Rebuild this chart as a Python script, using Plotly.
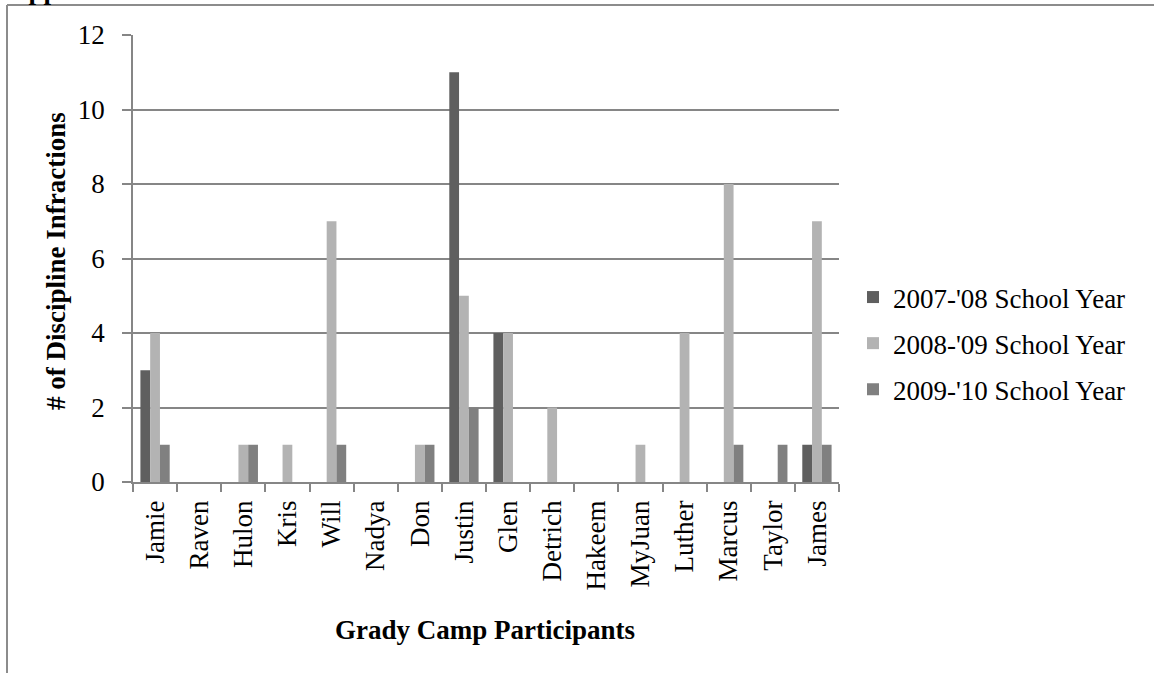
import plotly.graph_objects as go

participants = ["Jamie", "Raven", "Hulon", "Kris", "Will", "Nadya", "Don", "Justin",
                "Glen", "Detrich", "Hakeem", "MyJuan", "Luther", "Marcus", "Taylor", "James"]
year_0708 = [3, 0, 0, 0, 0, 0, 0, 11, 4, 0, 0, 0, 0, 0, 0, 1]
year_0809 = [4, 0, 1, 1, 7, 0, 1, 5, 4, 2, 0, 1, 4, 8, 0, 7]
year_0910 = [1, 0, 1, 0, 1, 0, 1, 2, 0, 0, 0, 0, 0, 1, 1, 1]
series_names = ["2007-'08 School Year", "2008-'09 School Year", "2009-'10 School Year"]
series_colors = ["#5f5f5f", "#b3b3b3", "#808080"]

FONT = "Liberation Serif, Times New Roman, serif"
W, H = 1154, 673
L, R, T, B = 133, 839, 35, 482  # plot area in pixels

def px(x):
    return (x - L) / (R - L)

def py(y):
    return (B - y) / (B - T)

fig = go.Figure()
for i, (name, vals, col) in enumerate(zip(series_names, [year_0708, year_0809, year_0910], series_colors)):
    fig.add_trace(go.Bar(x=participants, y=vals, name=name, marker_color=col,
                         marker_line_width=0, legendgroup=str(i)))

fig.update_layout(
    width=W, height=H,
    margin=dict(l=L, r=W - R, t=T, b=H - B, pad=0),
    plot_bgcolor="white", paper_bgcolor="white",
    barmode="group", bargap=0.336, bargroupgap=0,
    font=dict(family=FONT, size=27, color="black"),
    showlegend=True,
    legend=dict(x=px(853), y=py(273), xanchor="left", yanchor="top",
                font=dict(family=FONT, size=27, color="black"),
                traceorder="grouped", tracegroupgap=8, itemwidth=30,
                bgcolor="rgba(0,0,0,0)"),
)

fig.update_xaxes(
    type="category", showgrid=False, showline=True, linecolor="#868686", linewidth=1.5,
    ticks="outside", tickson="boundaries", ticklen=8, tickcolor="#868686", tickwidth=1.5,
    tickangle=-90, ticklabelstandoff=6, tickfont=dict(family=FONT, size=27, color="black"),
)
fig.update_yaxes(
    range=[0, 12], dtick=2, showgrid=True, gridcolor="#868686", gridwidth=1.5,
    showline=True, linecolor="#868686", linewidth=1.5,
    ticks="outside", ticklen=9, tickcolor="#868686", tickwidth=1.5, ticklabelstandoff=12,
    tickfont=dict(family=FONT, size=27, color="black"), zeroline=False,
)

fig.add_annotation(text="<b># of Discipline Infractions</b>", textangle=-90,
                   x=px(56), y=py(261), xref="paper", yref="paper",
                   xanchor="center", yanchor="middle",
                   showarrow=False, font=dict(family=FONT, size=27, color="black"))
fig.add_annotation(text="<b>Grady Camp Participants</b>",
                   x=px(485), y=py(630), xref="paper", yref="paper",
                   xanchor="center", yanchor="middle",
                   showarrow=False, font=dict(family=FONT, size=27, color="black"))
# heading above the chart, cut off by the top edge in the reference
fig.add_annotation(text="<b>Appendix</b>", x=px(7), y=py(7), xref="paper", yref="paper",
                   xanchor="left", yanchor="bottom", showarrow=False,
                   font=dict(family=FONT, size=27, color="black"))

# outer frame
fig.add_shape(type="line", xref="paper", yref="paper",
              x0=px(7), x1=px(7), y0=py(5), y1=py(690),
              line=dict(color="#8c8c8c", width=2))
fig.add_shape(type="line", xref="paper", yref="paper",
              x0=px(7), x1=px(1170), y0=py(5), y1=py(5),
              line=dict(color="#8c8c8c", width=2))

fig.write_html("out.html", config={"displayModeBar": False},
               post_script="document.body.style.margin='0px';")
